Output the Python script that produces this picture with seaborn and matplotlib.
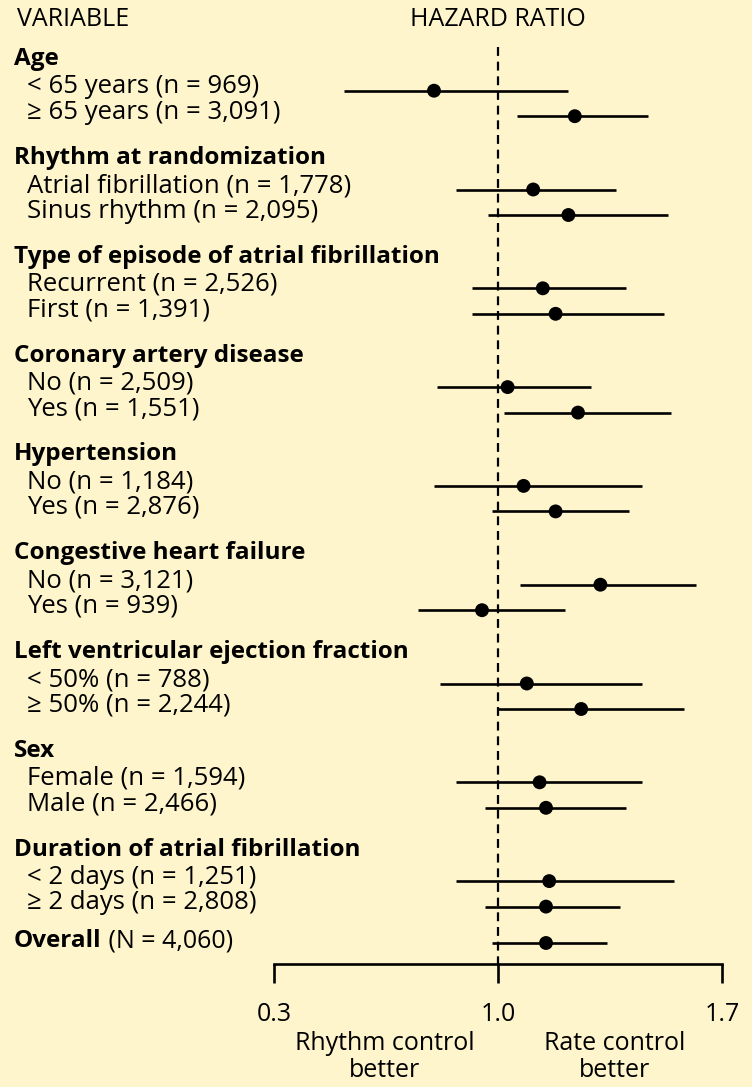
import matplotlib
matplotlib.use("Agg")
import matplotlib.pyplot as plt
import matplotlib.transforms as mtransforms
import seaborn as sns
import numpy as np
import pandas as pd

groups = [
    "Age",
    "Rhythm at randomization",
    "Type of episode of atrial fibrillation",
    "Coronary artery disease",
    "Hypertension",
    "Congestive heart failure",
    "Left ventricular ejection fraction",
    "Sex",
    "Duration of atrial fibrillation",
]
subgroups = [
    ["< 65 years (n = 969)", "\u2265 65 years (n = 3,091)"],
    ["Atrial fibrillation (n = 1,778)", "Sinus rhythm (n = 2,095)"],
    ["Recurrent (n = 2,526)", "First (n = 1,391)"],
    ["No (n = 2,509)", "Yes (n = 1,551)"],
    ["No (n = 1,184)", "Yes (n = 2,876)"],
    ["No (n = 3,121)", "Yes (n = 939)"],
    ["< 50% (n = 788)", "\u2265 50% (n = 2,244)"],
    ["Female (n = 1,594)", "Male (n = 2,466)"],
    ["< 2 days (n = 1,251)", "\u2265 2 days (n = 2,808)"],
]
hr = [0.80, 1.24, 1.11, 1.22, 1.14, 1.18, 1.03, 1.25, 1.08, 1.18,
      1.32, 0.95, 1.09, 1.26, 1.13, 1.15, 1.16, 1.15]
lo = [0.52, 1.06, 0.87, 0.97, 0.92, 0.92, 0.81, 1.02, 0.80, 0.98,
      1.07, 0.75, 0.82, 1.00, 0.87, 0.96, 0.87, 0.96]
hi = [1.22, 1.47, 1.37, 1.53, 1.40, 1.52, 1.29, 1.54, 1.45, 1.41,
      1.62, 1.21, 1.45, 1.58, 1.45, 1.40, 1.55, 1.38]
overall_label = "(N = 4,060)"
overall_hr, overall_lo, overall_hi = 1.15, 0.98, 1.34
xticks = [0.3, 1.0, 1.7]

bg = "#fef5cc"
font = "Open Sans"
fs = 18.5
fs_bold = 17.5

# vertical layout in figure pixels (top = 0)
step = 98.8
item_y = []
head_y = []
for g in range(len(groups)):
    y1 = 90.7 + step * g
    head_y.append(y1 - 25.5)
    item_y += [y1, y1 + 25.5]
overall_y = 943

df = pd.DataFrame({
    "hr": hr + [overall_hr],
    "lo": lo + [overall_lo],
    "hi": hi + [overall_hi],
    "y": item_y + [overall_y],
})

sns.set_style("white")
plt.rcParams["font.family"] = [font, "DejaVu Sans"]
plt.rcParams["text.color"] = "black"
plt.rcParams["xtick.color"] = "black"
plt.rcParams["axes.edgecolor"] = "black"

fig = plt.figure(figsize=(7.52, 10.87), dpi=100, facecolor=bg)
ax = fig.add_axes([274 / 752, (1087 - 964) / 1087, 448 / 752, 964 / 1087])
ax.set_facecolor(bg)
ax.set_xlim(0.3, 1.7)
ax.set_ylim(964, 0)

# reference line
ax.plot([1.0, 1.0], [47, 964], color="black", lw=1.6, ls=(0, (4, 2.6)), zorder=1)

ax.hlines(df["y"], df["lo"], df["hi"], color="black", lw=1.9, zorder=2)
sns.scatterplot(data=df, x="hr", y="y", ax=ax, color="black", s=100,
                edgecolor="none", zorder=3, legend=False)

for s in ["top", "right", "left"]:
    ax.spines[s].set_visible(False)
ax.spines["bottom"].set_linewidth(1.9)
ax.set_xticks(xticks)
ax.set_xticklabels([f"{t:.1f}" for t in xticks], fontsize=18)
ax.tick_params(axis="x", direction="out", length=13.5, width=1.9, pad=14,
               bottom=True)
ax.set_yticks([])
ax.set_xlabel("")
ax.set_ylabel("")

# left column texts (y = baseline in pixels)
tr = mtransforms.blended_transform_factory(fig.transFigure, ax.transData)
x_head = 14 / 752
x_item = 27 / 752
ax.text(17 / 752, 26, "VARIABLE", transform=tr, fontsize=18, va="baseline")
ax.text(1.0, 26, "HAZARD RATIO", fontsize=18, va="baseline", ha="center")
i = 0
for g, name in enumerate(groups):
    ax.text(x_head, head_y[g], name, transform=tr, fontsize=fs_bold,
            fontweight="bold", va="baseline")
    for lab in subgroups[g]:
        ax.text(x_item, item_y[i] + 2.6, lab, transform=tr, fontsize=fs,
                va="baseline")
        i += 1
t = ax.text(x_head, overall_y + 4, "Overall", transform=tr, fontsize=fs_bold,
            fontweight="bold", va="baseline")
ax.annotate(" " + overall_label, xy=(1, 0), xycoords=t, fontsize=18,
            va="bottom", ha="left")

ax.text(0.645, 1031, "Rhythm control\nbetter", fontsize=18, ha="center",
        va="top", linespacing=1.1, clip_on=False)
ax.text(1.365, 1031, "Rate control\nbetter", fontsize=18, ha="center",
        va="top", linespacing=1.1, clip_on=False)

fig.savefig("out.png", dpi=100, facecolor=bg)
